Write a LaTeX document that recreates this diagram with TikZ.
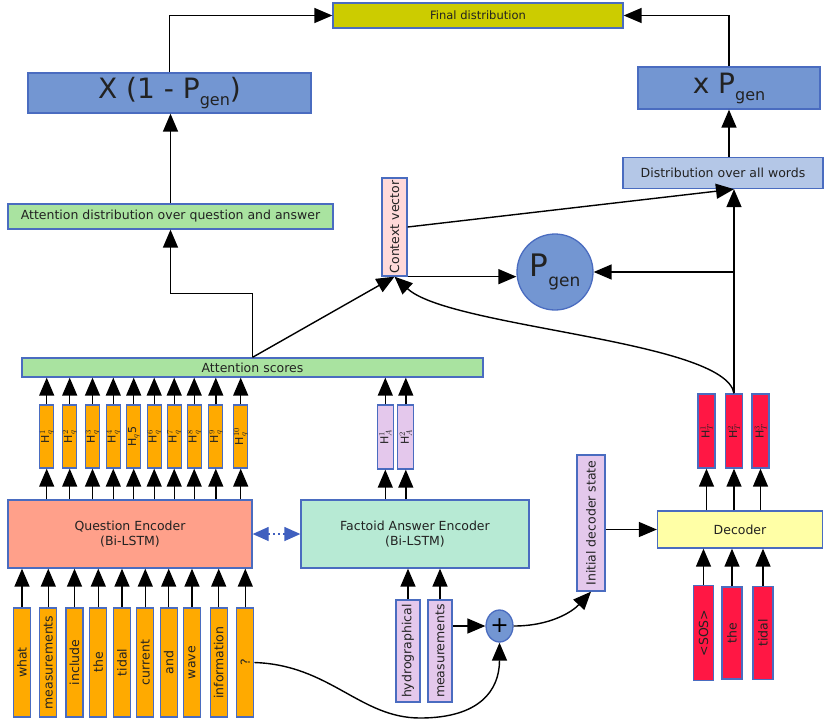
\documentclass[tikz,border=0pt]{standalone}
\usepackage{fontspec}
\setmainfont{DejaVu Sans}
\usetikzlibrary{arrows.meta,shapes.geometric}
\definecolor{bd}{HTML}{4A6CC0}
\definecolor{cfinal}{HTML}{CCCC00}
\definecolor{cblue}{HTML}{7396D2}
\definecolor{cdist}{HTML}{B4C7E7}
\definecolor{cgreen}{HTML}{A9E3A0}
\definecolor{cctx}{HTML}{FFD9D9}
\definecolor{corange}{HTML}{FFAA00}
\definecolor{csalmon}{HTML}{FFA08A}
\definecolor{cmint}{HTML}{B7EAD4}
\definecolor{clav}{HTML}{E4C8EC}
\definecolor{cred}{HTML}{FF1744}
\definecolor{cyel}{HTML}{FFFFA6}
\definecolor{cdash}{HTML}{3F5FBF}
\definecolor{txt}{HTML}{222222}
\begin{document}
\begin{tikzpicture}[x=1pt,y=-1pt,
  box/.style={draw=bd, line width=1.3pt, inner sep=0pt, align=center, text=txt,
    font=\fontsize{12.5}{15}\selectfont},
  hlab/.style={box, font=\fontsize{11}{13}\selectfont},
  arr/.style={-{Triangle[length=18pt,width=15pt]}, line width=1.4pt, black},
  dasharr/.style={{Triangle[length=16pt,width=14pt]}-{Triangle[length=16pt,width=14pt]},
    line width=1.3pt, cdash, dash pattern=on 2pt off 3pt}
]
\useasboundingbox (0,0) rectangle (837,724);

% top row
\node[box, fill=cfinal, minimum width=290pt, minimum height=25pt,
  font=\fontsize{11.5}{13}\selectfont] (final) at (478,15.5) {Final distribution};
\node[box, fill=cblue, minimum width=283pt, minimum height=40pt,
  font=\fontsize{28}{30}\selectfont] (xone) at (169.5,93)
  {X (1 - P\raisebox{-7pt}{\fontsize{16}{16}\selectfont gen})};
\node[box, fill=cblue, minimum width=182pt, minimum height=42pt,
  font=\fontsize{28}{30}\selectfont] (xp) at (729,88)
  {x P\raisebox{-7pt}{\fontsize{16}{16}\selectfont gen}};

\node[box, fill=cdist, minimum width=200pt, minimum height=31pt] (dist) at (723,173)
  {Distribution over all words};
\node[box, fill=cgreen, minimum width=325pt, minimum height=25pt] (attd) at (170.5,216.5)
  {Attention distribution over question and answer};
\node[box, fill=cctx, minimum width=25pt, minimum height=98pt] (ctx) at (394.5,227)
  {\rotatebox{90}{Context vector}};
\node[circle, draw=bd, line width=1.3pt, fill=cblue, minimum size=76pt, inner sep=0pt,
  text=txt, font=\fontsize{31}{31}\selectfont] (pgen) at (555,272)
  {P\raisebox{-10pt}{\fontsize{17}{17}\selectfont gen}};

\node[box, fill=cgreen, minimum width=461pt, minimum height=19pt] (att) at (252.5,367.5)
  {Attention scores};

% encoders
\node[box, fill=csalmon, minimum width=244pt, minimum height=68pt] (qenc) at (130,534)
  {Question Encoder\\(Bi-LSTM)};
\node[box, fill=cmint, minimum width=228pt, minimum height=68pt] (fenc) at (415,534)
  {Factoid Answer Encoder\\(Bi-LSTM)};
\draw[dasharr] (qenc.east) -- (fenc.west);

% question hidden states
\foreach \x/\t [count=\i] in {46.7/{H$^{1}_{q}$}, 69.7/{H$^{2}_{q}$}, 92.5/{H$^{3}_{q}$},
  113.3/{H$^{4}_{q}$}, 133.7/{H$_{q}$5}, 154.2/{H$^{6}_{q}$}, 174.2/{H$^{7}_{q}$},
  194.2/{H$^{8}_{q}$}, 215.8/{H$^{9}_{q}$}, 240.7/{H$^{10}_{q}$}}{
  \node[hlab, fill=corange, minimum width=14pt, minimum height=63pt] (hq\i) at (\x,436.5)
    {\rotatebox{90}{\t}};
  \draw[arr] (hq\i.north) -- (hq\i.north |- att.south);
  \draw[arr] (hq\i.south |- qenc.north) -- (hq\i.south);
}

% question words
\foreach \x/\t [count=\i] in {22/what, 48.3/measurements, 74.5/include, 98.3/the,
  122/tidal, 145.3/current, 168.7/and, 192/wave, 218.7/information, 245.3/?}{
  \node[box, fill=corange, minimum width=17pt, minimum height=109pt] (qw\i) at (\x,662.5)
    {\rotatebox{90}{\t}};
  \draw[arr] (qw\i.north) -- (qw\i.north |- qenc.south);
}

% answer hidden states
\foreach \x/\t [count=\i] in {385.3/{H$^{1}_{A}$}, 405.8/{H$^{2}_{A}$}}{
  \node[hlab, fill=clav, minimum width=16pt, minimum height=64pt] (ha\i) at (\x,437)
    {\rotatebox{90}{\t}};
  \draw[arr] (ha\i.north) -- (ha\i.north |- att.south);
  \draw[arr] (ha\i.south |- fenc.north) -- (ha\i.south);
}

% answer words
\node[box, fill=clav, minimum width=24pt, minimum height=102pt] (aw1) at (408,651)
  {\rotatebox{90}{hydrographical}};
\node[box, fill=clav, minimum width=24pt, minimum height=102pt] (aw2) at (440,651)
  {\rotatebox{90}{measurements}};
\draw[arr] (aw1.north) -- (aw1.north |- fenc.south);
\draw[arr] (aw2.north) -- (aw2.north |- fenc.south);

\node[ellipse, draw=bd, line width=1.3pt, fill=cblue, minimum width=27pt, minimum height=32pt,
  inner sep=0pt, font=\fontsize{22}{22}\selectfont] (plus) at (499.5,626) {+};
\draw[arr] (aw2.east |- plus.west) -- (plus.west);
\draw[arr] (qw10.east) .. controls (330,665) and (360,718) .. (420,718)
  .. controls (480,718) and (499.5,690) .. (plus.south);

% decoder side
\node[box, fill=clav, minimum width=28pt, minimum height=136pt] (init) at (591,523)
  {\rotatebox{90}{Initial decoder state}};
\draw[arr] (plus.east) .. controls (550,626) and (572,612) .. (init.south);

\node[box, fill=cyel, minimum width=165pt, minimum height=37pt] (dec) at (740,529.5) {Decoder};
\draw[arr] (init.east |- dec.west) -- (dec.west);

\foreach \x/\t [count=\i] in {706.5/{H$^{1}_{T}$}, 734/{H$^{2}_{T}$}, 760.5/{H$^{3}_{T}$}}{
  \node[hlab, fill=cred, minimum width=17pt, minimum height=74pt] (ht\i) at (\x,431)
    {\rotatebox{90}{\t}};
  \draw[arr] (ht\i.south |- dec.north) -- (ht\i.south);
}
\foreach \x/\t/\h [count=\i] in {703.5/{<SOS>}/95, 732/the/92, 763/tidal/93}{
  \node[box, fill=cred, minimum width=20pt, minimum height=\h pt] (di\i) at (\x,633)
    {\rotatebox{90}{\t}};
  \draw[arr] (di\i.north) -- (di\i.north |- dec.south);
}

% upper connections
\draw[arr] (xone.north) |- (final.west);
\draw[arr] (xp.north) |- (final.east);
\draw[arr] (attd.north) -- (attd.north |- xone.south);
\draw[arr] (xp.south |- dist.north) -- (xp.south);
\coordinate (dtip) at (ht2.north |- dist.south);
\draw[arr] (ctx.east) -- (dtip);
\draw[arr] (ht2.north) -- (dtip);
\draw[arr] (ht2.north |- pgen.east) -- (pgen.east);
\draw[arr] (ctx.south east) -- (ctx.south east -| pgen.west);
\draw[arr] (ht2.north) .. controls (725,340) and (450,328) .. (ctx.south);
\draw[arr] (att.north) -- (ctx.south);
\draw[arr] (att.north) -- ++(0,-64) -| (attd.south);
\end{tikzpicture}
\end{document}
